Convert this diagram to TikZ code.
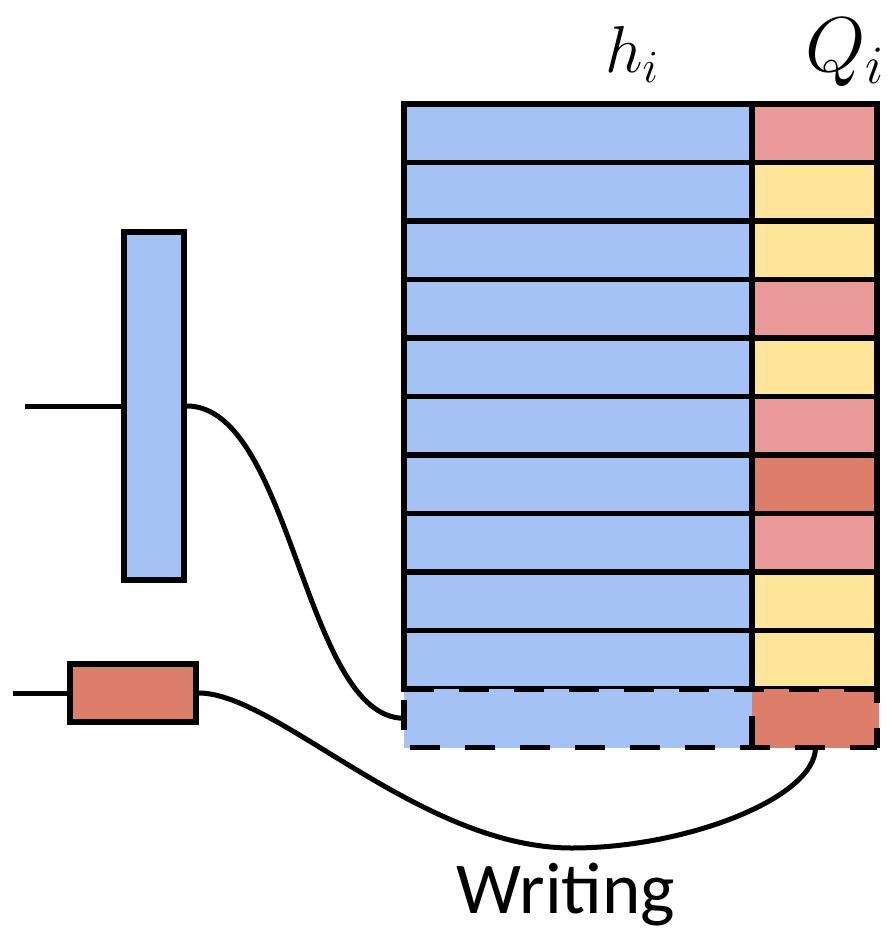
\documentclass[tikz,border=0pt]{standalone}
\usepackage{fontspec}
\usepackage{graphicx}
\newfontfamily\labelfont{Carlito}
\definecolor{cellblue}{HTML}{A4C2F4}
\definecolor{cellpink}{HTML}{EA9999}
\definecolor{cellyellow}{HTML}{FFE599}
\definecolor{cellsalmon}{HTML}{DD7E6B}
\tikzset{
  border/.style={line width=5.5pt, draw=black},
  cell/.style={border, rectangle, inner sep=0pt, outer sep=0pt, anchor=north west, minimum height=58.5pt},
  hcell/.style={cell, fill=cellblue, minimum width=348pt},
  qcell/.style={cell, minimum width=125pt},
  newcell/.style={rectangle, inner sep=0pt, outer sep=0pt, anchor=north west, minimum height=58.5pt},
  gate/.style={border, rectangle, inner sep=0pt},
  wire/.style={line width=5pt, draw=black},
  newedge/.style={line width=5.5pt, dash pattern=on 30pt off 25pt},
  collabel/.style={anchor=base west, inner sep=0pt},
}
\newcommand{\biglabel}[2]{\scalebox{#1}{$#2$}}
\begin{document}
\begin{tikzpicture}[x=1pt, y=-1pt]
\useasboundingbox (0,0) rectangle (891,933);

% memory rows: key part h_i and value part Q_i
\foreach \k/\qc in {1/cellpink,2/cellyellow,3/cellyellow,4/cellpink,5/cellyellow,
                    6/cellpink,7/cellsalmon,8/cellpink,9/cellyellow,10/cellyellow}{
  \node[hcell] (h\k) at (404, {104+58.5*(\k-1)}) {};
  \node[qcell, fill=\qc] (q\k) at (752, {104+58.5*(\k-1)}) {};
}

% the row being written, outlined with dashes
\node[newcell, fill=cellblue, minimum width=348pt] (newh) at (404, 689) {};
\node[newcell, fill=cellsalmon, minimum width=127pt] (newq) at (752, 689) {};
\coordinate (ne) at (877, 689);
\coordinate (se) at (877, 747.5);
\draw[newedge] (newh.north west) -- (ne);
\draw[newedge, dash phase=49pt] (newh.south west) -- (se);
\draw[newedge, dash phase=44pt] (newh.north west) -- (newh.south west);
\draw[newedge, dash phase=16pt] (ne) -- (se);
\draw[newedge, dash phase=28pt] (newh.north east) -- (newh.south east);

% column labels
\node[collabel] (hlab) at (605,73) {\fontsize{20}{24}\selectfont\biglabel{3.2}{h_i}};
\node[collabel] (qlab) at (805,72) {\fontsize{20}{24}\selectfont\biglabel{3.75}{Q_i}};

% controller state and write value
\node[gate, fill=cellblue, minimum width=60pt, minimum height=348pt] (ctrl) at (154,406) {};
\node[gate, fill=cellsalmon, minimum width=126pt, minimum height=58pt] (val) at (133,693) {};

\coordinate (ctrlin) at (25,406);
\coordinate (valin) at (13,693);
\coordinate (low) at (572,848);

\draw[wire] (ctrlin) -- (ctrl.west);
\draw[wire] (valin) -- (val.west);

\draw[wire] (ctrl.east) .. controls ([xshift=105pt]ctrl.east) and ([xshift=-100pt]newh.west) .. (newh.west);
\draw[wire] (val.east) .. controls ([xshift=78pt]val.east) and ([xshift=-152pt]low) .. (low)
  .. controls ([xshift=115pt]low) and ([yshift=-50pt]newq.south) .. (newq.south);

\node[anchor=base, inner sep=0pt, font=\labelfont\fontsize{73}{78}\selectfont] (wlab) at (566,913) {Writing};
\end{tikzpicture}
\end{document}
